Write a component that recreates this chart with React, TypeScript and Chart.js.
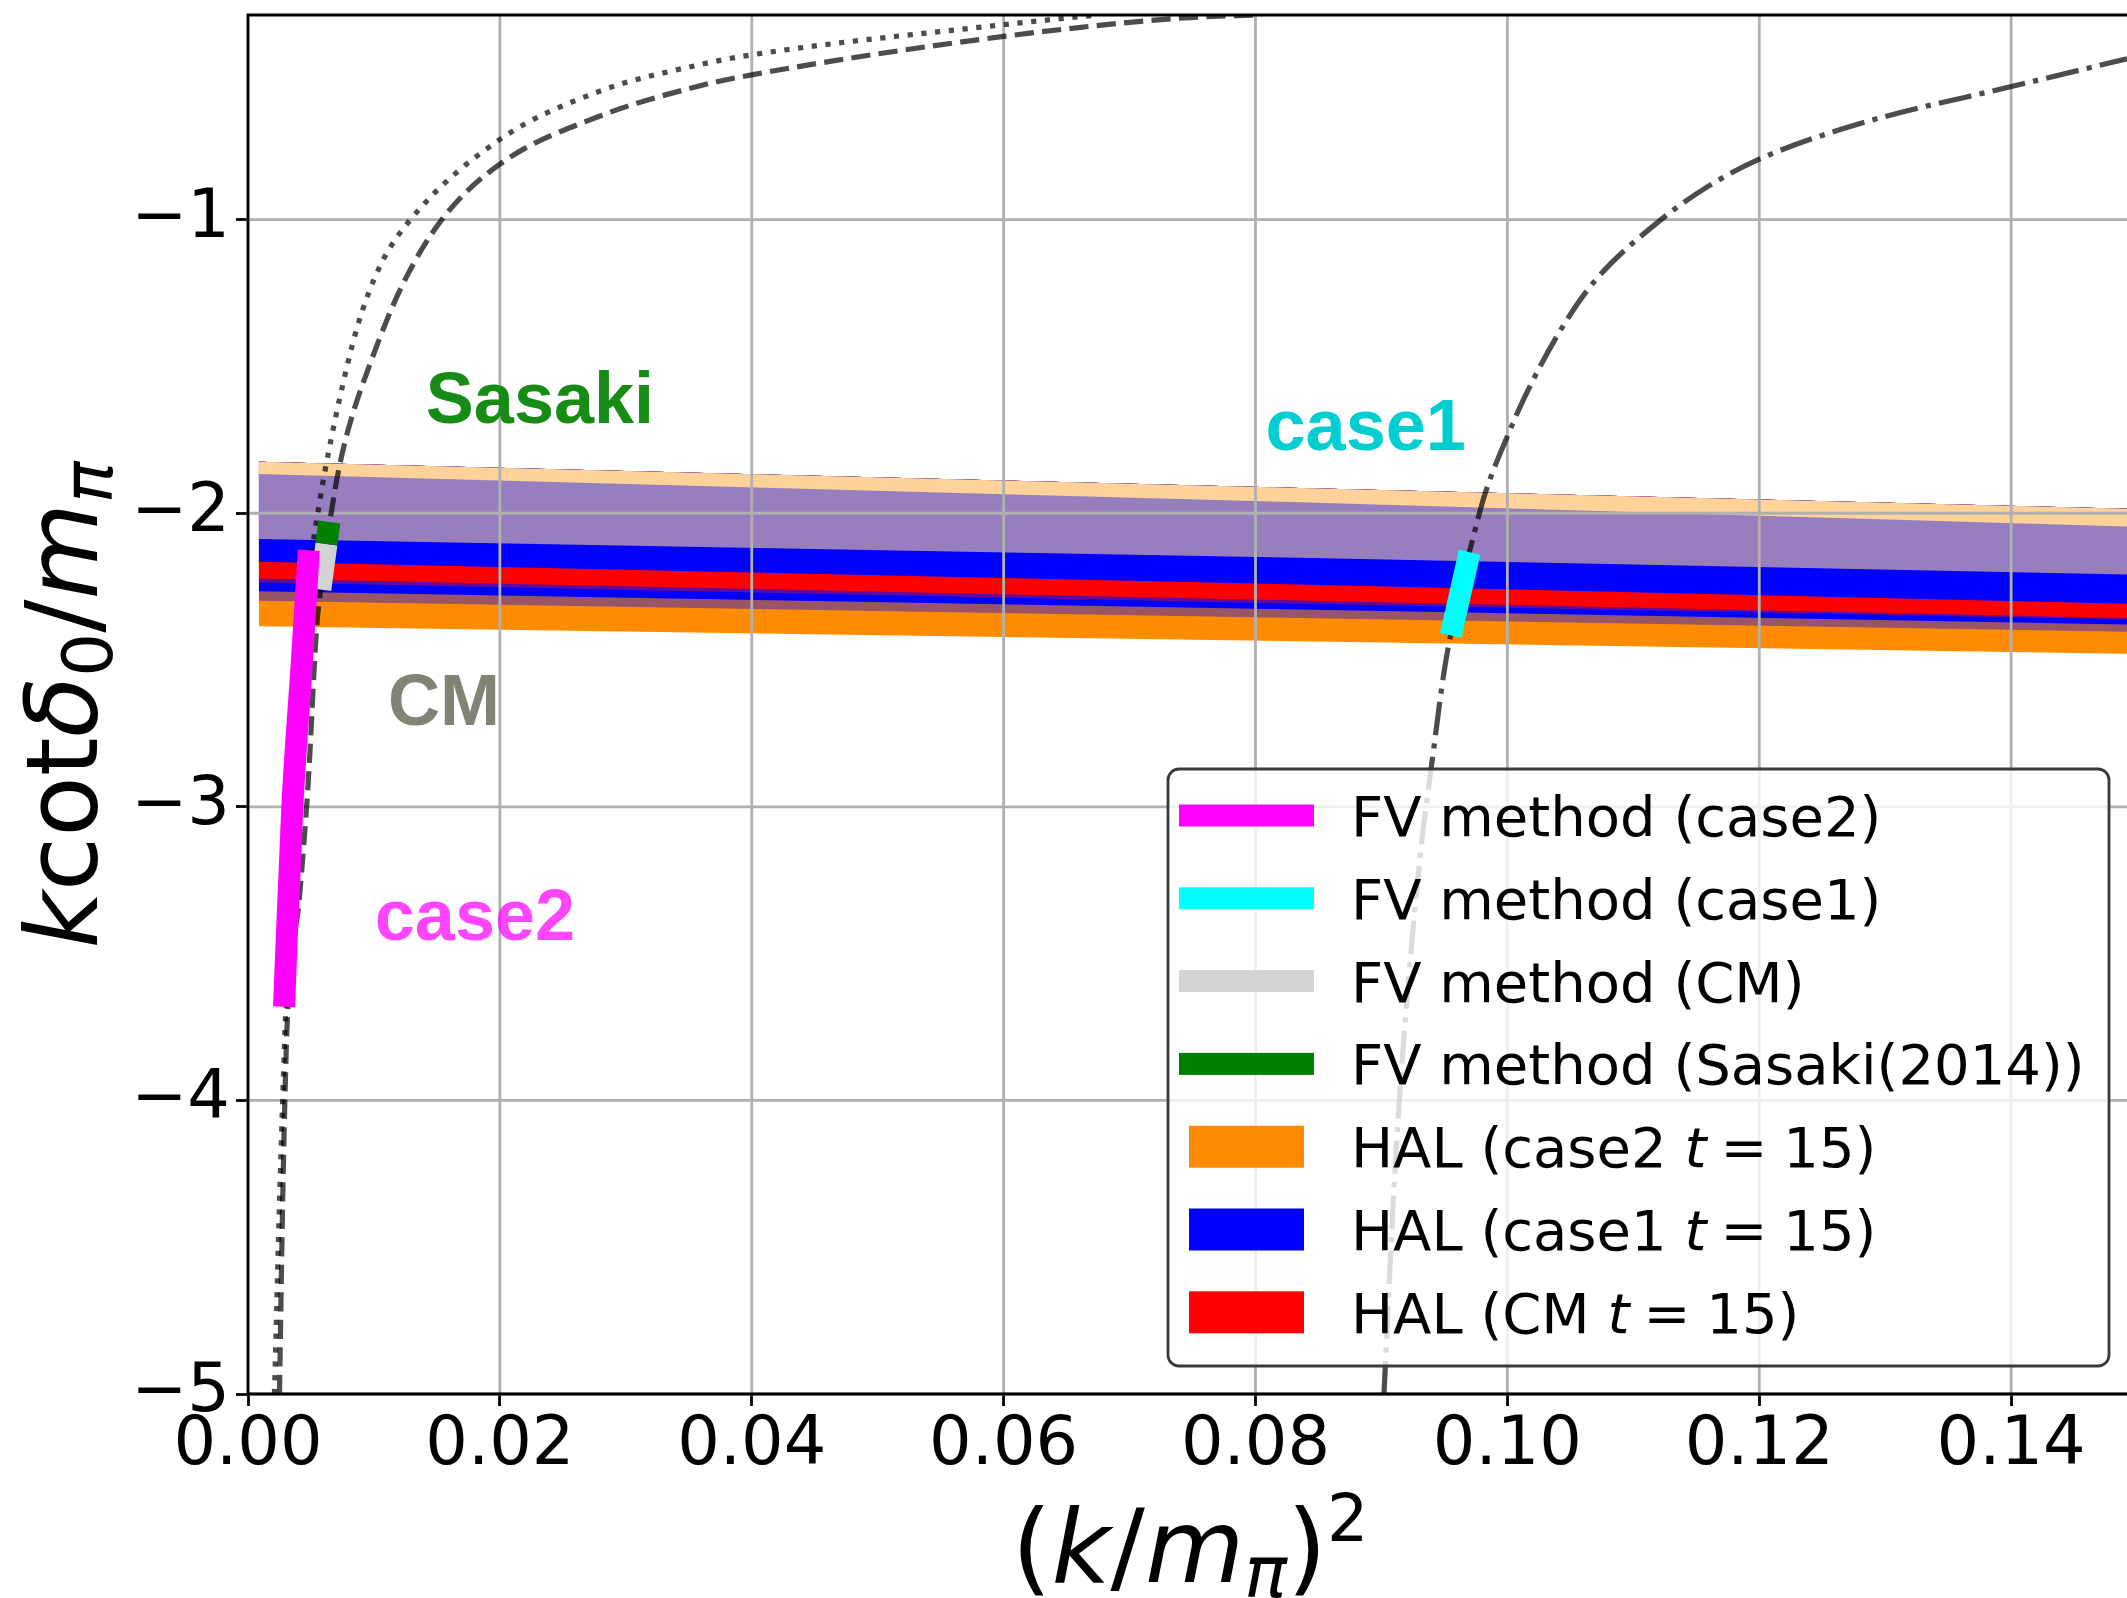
import React, { useEffect, useRef } from 'react';
import Chart from 'chart.js/auto';

const CANVAS_W = 2127;
const CANVAS_H = 1598;

// ---- axes ----
const xTicks = [0, 0.02, 0.04, 0.06, 0.08, 0.1, 0.12, 0.14];
const xTickLabels = ['0.00', '0.02', '0.04', '0.06', '0.08', '0.10', '0.12', '0.14'];
const yTicks = [-5, -4, -3, -2, -1];
const yTickLabels = ['\u22125', '\u22124', '\u22123', '\u22122', '\u22121'];
const X_MIN = 0;
const X_MAX = 0.1492;
const Y_MIN = -5;
const Y_MAX = -0.303;

// ---- finite-volume (Luscher) curves ----
// dotted curve (case2 volume)
const curveCase2X = [0.0021, 0.0025, 0.003, 0.0036, 0.0043, 0.0051, 0.0057, 0.0061, 0.00723, 0.00864, 0.01043, 0.0129, 0.02, 0.0279, 0.0359, 0.0401, 0.06, 0.0674];
const curveCase2Y = [-5.0, -4.35, -3.68, -3.0, -2.52, -2.13, -1.959, -1.859, -1.619, -1.371, -1.163, -1.0, -0.727, -0.563, -0.472, -0.438, -0.336, -0.303];
// dashed curve (CM volume)
const curveCMX = [0.0025, 0.00275, 0.0031, 0.0041, 0.00477, 0.00544, 0.00576, 0.00622, 0.00663, 0.0071, 0.0079, 0.00971, 0.0122, 0.01539, 0.02, 0.0279, 0.0359, 0.0401, 0.06, 0.0743, 0.0805];
const curveCMY = [-5.0, -4.35, -3.75, -3.3, -2.924, -2.395, -2.262, -2.103, -1.993, -1.874, -1.724, -1.489, -1.228, -1.0, -0.811, -0.648, -0.544, -0.506, -0.376, -0.313, -0.302];
// dash-dot curve (case1 volume)
const curveCase1X = [0.0902, 0.0911, 0.0919, 0.0931, 0.0941, 0.095, 0.0962, 0.0971, 0.0982, 0.1, 0.1014, 0.1041, 0.1068, 0.1122, 0.116, 0.1201, 0.1284, 0.1401, 0.1492];
const curveCase1Y = [-5.0, -4.217, -3.723, -3.158, -2.819, -2.533, -2.27, -2.113, -1.937, -1.738, -1.602, -1.385, -1.216, -1.0, -0.885, -0.792, -0.668, -0.546, -0.452];

// ---- FV method results ----
const fvCase2X = [0.00286, 0.00352, 0.00425, 0.00483];
const fvCase2Y = [-3.681, -3.0, -2.522, -2.126];
const fvCase1X = [0.0955, 0.097];
const fvCase1Y = [-2.416, -2.133];
const fvCMX = [0.00574, 0.00623];
const fvCMY = [-2.26, -2.105];
const fvSasakiX = [0.00623, 0.00646];
const fvSasakiY = [-2.105, -2.03];

// ---- HAL bands: stripe edges (top to bottom) ----
const bandX = [0.00086, 0.0835, 0.1492];
const bandEdge0 = [-1.825, -1.914, -1.985];
const bandEdge1 = [-1.866, -1.963, -2.045];
const bandEdge2 = [-2.088, -2.152, -2.209];
const bandEdge3 = [-2.165, -2.243, -2.308];
const bandEdge4 = [-2.222, -2.297, -2.357];
const bandEdge5 = [-2.235, -2.308, -2.362];
const bandEdge6 = [-2.266, -2.328, -2.379];
const bandEdge7 = [-2.298, -2.357, -2.404];
const bandEdge8 = [-2.385, -2.436, -2.479];
const stripeColors = ['#FFD29A', '#977FBF', '#0000FF', '#FF0000', '#620A9C', '#0000FF', '#995466', '#FF8C00'];

// ---- legend ----
const legendLabels = [
  'FV method (case2)',
  'FV method (case1)',
  'FV method (CM)',
  'FV method (Sasaki(2014))',
  'HAL (case2 $t=15$)',
  'HAL (case1 $t=15$)',
  'HAL (CM $t=15$)',
];
const legendColors = ['#FF00FF', '#00FFFF', '#D3D3D3', '#008000', '#FF8C00', '#0000FF', '#FF0000'];
const legendKinds = ['line', 'line', 'line', 'line', 'patch', 'patch', 'patch'];

// ---- text annotations (data coords) ----
const annoTexts = ['Sasaki', 'case1', 'CM', 'case2'];
const annoX = [0.01412, 0.0808, 0.01112, 0.01007];
const annoY = [-1.691, -1.783, -2.72, -3.452];
const annoColors = ['rgb(22,140,22)', '#00CED1', 'rgb(130,131,116)', 'rgba(255,0,255,0.73)'];

const pts = (xs: number[], ys: number[]) => xs.map((x, i) => ({ x, y: ys[i] }));

const CURVE_COLOR = 'rgba(0,0,0,0.7)';
const CURVE_W = 5.2;
const FV_W = 22;

type Seg = { t: string; f: string; dy: number };

function drawSegs(ctx: CanvasRenderingContext2D, segs: Seg[], cx: number, baseY: number) {
  let total = 0;
  const widths = segs.map((s) => {
    ctx.font = s.f;
    const w = ctx.measureText(s.t).width;
    total += w;
    return w;
  });
  let x = cx - total / 2;
  ctx.textAlign = 'left';
  ctx.textBaseline = 'alphabetic';
  segs.forEach((s, i) => {
    ctx.font = s.f;
    ctx.fillText(s.t, x, baseY + s.dy);
    x += widths[i];
  });
}

const overlayPlugin = {
  id: 'overlay',
  afterDatasetDraw(chart: any, args: any) {
    if (args.index !== 0) return;
    const { ctx, chartArea: a, scales } = chart;
    ctx.save();
    ctx.strokeStyle = '#b0b0b0';
    ctx.lineWidth = 2.8;
    ctx.beginPath();
    xTicks.forEach((v) => {
      const px = scales.x.getPixelForValue(v);
      ctx.moveTo(px, a.top);
      ctx.lineTo(px, a.bottom);
    });
    yTicks.forEach((v) => {
      const py = scales.y.getPixelForValue(v);
      ctx.moveTo(a.left, py);
      ctx.lineTo(a.right, py);
    });
    ctx.stroke();
    ctx.restore();
  },
  afterDatasetsDraw(chart: any) {
    const { ctx, chartArea: a, scales } = chart;
    ctx.save();
    // annotations
    ctx.font = 'bold 72px "Liberation Sans", Arial, sans-serif';
    ctx.textAlign = 'left';
    ctx.textBaseline = 'alphabetic';
    annoTexts.forEach((t, i) => {
      ctx.fillStyle = annoColors[i];
      ctx.fillText(t, scales.x.getPixelForValue(annoX[i]), scales.y.getPixelForValue(annoY[i]));
    });
    // spines
    ctx.strokeStyle = '#000';
    ctx.lineWidth = 2.8;
    ctx.beginPath();
    ctx.moveTo(a.left, a.bottom + 1.4);
    ctx.lineTo(a.left, a.top - 1.4);
    ctx.moveTo(a.left - 1.4, a.top);
    ctx.lineTo(a.right, a.top);
    ctx.moveTo(a.left - 1.4, a.bottom);
    ctx.lineTo(a.right, a.bottom);
    ctx.stroke();
    ctx.restore();
  },
  afterDraw(chart: any) {
    const { ctx } = chart;
    ctx.save();
    // legend box
    const x0 = 1168, y0 = 769, x1 = 2109, y1 = 1366, r = 11;
    ctx.beginPath();
    ctx.moveTo(x0 + r, y0);
    ctx.lineTo(x1 - r, y0);
    ctx.arcTo(x1, y0, x1, y0 + r, r);
    ctx.lineTo(x1, y1 - r);
    ctx.arcTo(x1, y1, x1 - r, y1, r);
    ctx.lineTo(x0 + r, y1);
    ctx.arcTo(x0, y1, x0, y1 - r, r);
    ctx.lineTo(x0, y0 + r);
    ctx.arcTo(x0, y0, x0 + r, y0, r);
    ctx.closePath();
    ctx.fillStyle = 'rgba(255,255,255,0.8)';
    ctx.fill();
    ctx.strokeStyle = '#3a3a3a';
    ctx.lineWidth = 2.8;
    ctx.stroke();

    const fs = 56;
    const up = `${fs}px "DejaVu Sans"`;
    const it = `italic ${fs}px "DejaVu Sans"`;
    legendLabels.forEach((lab, i) => {
      const cy = 815.5 + i * 82.8;
      ctx.fillStyle = legendColors[i];
      if (legendKinds[i] === 'line') {
        ctx.fillRect(1179, cy - FV_W / 2, 135, FV_W);
      } else {
        ctx.fillRect(1189, cy - 21, 115, 42);
      }
      ctx.fillStyle = '#000';
      ctx.textAlign = 'left';
      ctx.textBaseline = 'alphabetic';
      const base = cy + 20.5;
      let x = 1351;
      const parts = lab.split('$');
      parts.forEach((p, k) => {
        if (k % 2 === 0) {
          ctx.font = up;
          ctx.fillText(p, x, base);
          x += ctx.measureText(p).width;
        } else {
          const [lhs, rhs] = p.split('=');
          ctx.font = it;
          ctx.fillText(lhs, x, base);
          x += ctx.measureText(lhs).width + 14;
          ctx.font = up;
          ctx.fillText('=', x, base);
          x += ctx.measureText('=').width + 16;
          ctx.fillText(rhs, x, base);
          x += ctx.measureText(rhs).width;
        }
      });
    });

    // axis titles
    ctx.fillStyle = '#000';
    const F = 102;
    drawSegs(ctx, [
      { t: '(', f: `${F}px "DejaVu Sans"`, dy: 0 },
      { t: 'k', f: `italic ${F}px "DejaVu Sans"`, dy: 0 },
      { t: '/', f: `${F}px "DejaVu Sans"`, dy: 0 },
      { t: 'm', f: `italic ${F}px "DejaVu Sans"`, dy: 0 },
      { t: '\u03c0', f: `italic ${Math.round(F * 0.7)}px "DejaVu Sans"`, dy: F * 0.15 },
      { t: ')', f: `${F}px "DejaVu Sans"`, dy: 0 },
      { t: '2', f: `${Math.round(F * 0.64)}px "DejaVu Sans"`, dy: -F * 0.4 },
    ], 1190, 1582);

    const G = 99;
    ctx.translate(97, 705);
    ctx.rotate(-Math.PI / 2);
    drawSegs(ctx, [
      { t: 'k', f: `italic ${G}px "DejaVu Sans"`, dy: 0 },
      { t: 'cot', f: `${G}px "DejaVu Sans"`, dy: 0 },
      { t: '\u03b4', f: `italic ${G}px "DejaVu Sans"`, dy: 0 },
      { t: '0', f: `${Math.round(G * 0.7)}px "DejaVu Sans"`, dy: G * 0.15 },
      { t: '/', f: `${G}px "DejaVu Sans"`, dy: 0 },
      { t: 'm', f: `italic ${G}px "DejaVu Sans"`, dy: 0 },
      { t: '\u03c0', f: `italic ${Math.round(G * 0.7)}px "DejaVu Sans"`, dy: G * 0.15 },
    ], 0, 0);
    ctx.restore();
  },
};

export default function App() {
  const ref = useRef<HTMLCanvasElement>(null);
  useEffect(() => {
    document.body.style.margin = '0';
    document.body.style.overflow = 'hidden';
    const canvas = ref.current;
    if (!canvas) return;

    const bandEdges = [bandEdge0, bandEdge1, bandEdge2, bandEdge3, bandEdge4, bandEdge5, bandEdge6, bandEdge7, bandEdge8];
    const datasets: any[] = [];
    bandEdges.forEach((edge, i) => {
      datasets.push({
        label: 'band edge ' + i,
        data: pts(bandX, edge),
        borderColor: 'rgba(0,0,0,0)',
        borderWidth: 0,
        pointRadius: 0,
        tension: 0,
        fill: i === 0 ? false : 0,
        backgroundColor: i === 0 ? 'rgba(0,0,0,0)' : stripeColors[i - 1],
        order: 10,
        clip: 0,
      });
    });
    const curve = (label: string, xs: number[], ys: number[], dash: number[]) => ({
      label,
      data: pts(xs, ys),
      borderColor: CURVE_COLOR,
      borderWidth: CURVE_W,
      borderDash: dash,
      borderCapStyle: 'butt',
      pointRadius: 0,
      fill: false,
      cubicInterpolationMode: 'monotone',
      order: 5,
      clip: 0,
    });
    datasets.push(curve('case2 curve', curveCase2X, curveCase2Y, [5.2, 8.6]));
    datasets.push(curve('CM curve', curveCMX, curveCMY, [19.2, 8.3]));
    datasets.push(curve('case1 curve', curveCase1X, curveCase1Y, [33.3, 8.3, 5.2, 8.3]));
    const fv = (label: string, xs: number[], ys: number[], color: string, order: number) => ({
      label,
      data: pts(xs, ys),
      borderColor: color,
      borderWidth: FV_W,
      borderCapStyle: 'butt',
      pointRadius: 0,
      fill: false,
      cubicInterpolationMode: 'monotone',
      order,
      clip: 0,
    });
    datasets.push(fv('FV method (case2)', fvCase2X, fvCase2Y, '#FF00FF', 1));
    datasets.push(fv('FV method (case1)', fvCase1X, fvCase1Y, '#00FFFF', 1));
    datasets.push(fv('FV method (CM)', fvCMX, fvCMY, '#D3D3D3', 1));
    datasets.push(fv('FV method (Sasaki(2014))', fvSasakiX, fvSasakiY, '#008000', 0));

    const tickFont = { family: 'DejaVu Sans', size: 67 };
    const chart = new Chart(canvas, {
      type: 'line',
      data: { datasets },
      options: {
        responsive: false,
        animation: false,
        devicePixelRatio: 1,
        events: [],
        layout: { padding: { top: 15, left: 0, right: 0, bottom: 0 } },
        plugins: { legend: { display: false }, tooltip: { enabled: false } },
        scales: {
          x: {
            type: 'linear',
            min: X_MIN,
            max: X_MAX,
            afterBuildTicks: (s: any) => {
              s.ticks = xTicks.map((v) => ({ value: v }));
            },
            afterFit: (s: any) => {
              s.height = CANVAS_H - 1394;
              s.paddingLeft = 0;
              s.paddingRight = 0;
            },
            ticks: {
              callback: (_v: any, i: number) => xTickLabels[i],
              font: tickFont,
              color: '#000',
              padding: 0,
              maxRotation: 0,
              autoSkip: false,
            },
            grid: {
              drawOnChartArea: false,
              drawTicks: true,
              tickLength: 12,
              tickWidth: 2.8,
              tickColor: '#000',
            },
            border: { display: false },
          },
          y: {
            type: 'linear',
            min: Y_MIN,
            max: Y_MAX,
            afterBuildTicks: (s: any) => {
              s.ticks = yTicks.map((v) => ({ value: v }));
            },
            afterFit: (s: any) => {
              s.width = 248;
              s.paddingTop = 0;
              s.paddingBottom = 0;
            },
            ticks: {
              callback: (_v: any, i: number) => yTickLabels[i],
              font: tickFont,
              color: '#000',
              padding: 6,
              autoSkip: false,
            },
            grid: {
              drawOnChartArea: false,
              drawTicks: true,
              tickLength: 12,
              tickWidth: 2.8,
              tickColor: '#000',
            },
            border: { display: false },
          },
        },
      },
      plugins: [overlayPlugin],
    } as any);
    return () => chart.destroy();
  }, []);
  return (
    <canvas
      ref={ref}
      width={CANVAS_W}
      height={CANVAS_H}
      style={{ display: 'block', width: CANVAS_W, height: CANVAS_H }}
    />
  );
}
